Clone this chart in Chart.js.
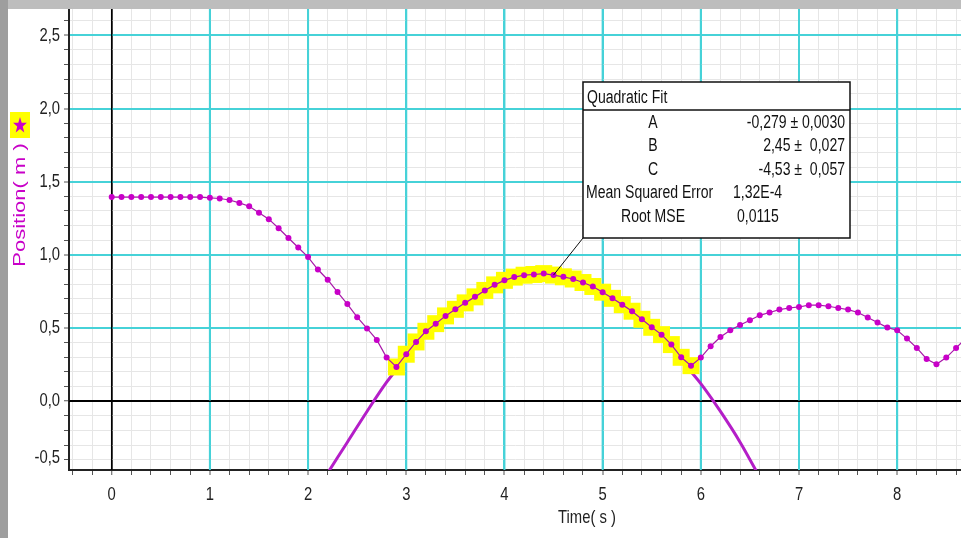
<!DOCTYPE html>
<html>
<head>
<meta charset="utf-8">
<script src="https://cdn.jsdelivr.net/npm/chart.js@4.4.1/dist/chart.umd.min.js"></script>
<style>
    html, body { margin: 0; padding: 0; background: #fff; overflow: hidden; }
    canvas { display: block; }
</style>
</head>
<body>
<canvas id="posChart" width="961" height="538"></canvas>
<script>
// ── Data ─────────────────────────────────────────────────────────
const TIME = [
    0.0, 0.1, 0.2, 0.3, 0.4, 0.5, 0.6, 0.7, 0.8, 0.9,
    1.0, 1.1, 1.2, 1.3, 1.4, 1.5, 1.6, 1.7, 1.8, 1.9,
    2.0, 2.1, 2.2, 2.3, 2.4, 2.5, 2.6, 2.7, 2.8, 2.9,
    3.0, 3.1, 3.2, 3.3, 3.4, 3.5, 3.6, 3.7, 3.8, 3.9,
    4.0, 4.1, 4.2, 4.3, 4.4, 4.5, 4.6, 4.7, 4.8, 4.9,
    5.0, 5.1, 5.2, 5.3, 5.4, 5.5, 5.6, 5.7, 5.8, 5.9,
    6.0, 6.1, 6.2, 6.3, 6.4, 6.5, 6.6, 6.7, 6.8, 6.9,
    7.0, 7.1, 7.2, 7.3, 7.4, 7.5, 7.6, 7.7, 7.8, 7.9,
    8.0, 8.1, 8.2, 8.3, 8.4, 8.5, 8.6, 8.7
];
const POSITION = [
    1.395, 1.395, 1.395, 1.395, 1.395, 1.395, 1.395, 1.395, 1.395, 1.395,
    1.390, 1.385, 1.375, 1.355, 1.332, 1.288, 1.244, 1.182, 1.115, 1.050,
    0.985, 0.900, 0.830, 0.746, 0.664, 0.574, 0.497, 0.419, 0.298, 0.234,
    0.321, 0.405, 0.478, 0.530, 0.583, 0.628, 0.672, 0.713, 0.757, 0.795,
    0.826, 0.848, 0.861, 0.866, 0.872, 0.862, 0.850, 0.835, 0.811, 0.784,
    0.745, 0.703, 0.660, 0.615, 0.560, 0.505, 0.455, 0.387, 0.300, 0.243,
    0.298, 0.376, 0.439, 0.485, 0.521, 0.553, 0.587, 0.606, 0.626, 0.637,
    0.644, 0.656, 0.656, 0.649, 0.637, 0.626, 0.606, 0.572, 0.538, 0.503,
    0.485, 0.428, 0.364, 0.289, 0.253, 0.298, 0.364, 0.430
];

// selected region used for the fit
const FIT_START = 2.9;
const FIT_END   = 5.9;
const FIT_LABEL_AT = 4.5;   // point the callout points to

// fitted curve as drawn in the picture
const FIT_TIME = [2.2, 2.4, 2.6, 2.8, 3.0, 3.2, 3.4, 3.6, 3.8, 4.0, 4.2, 4.4,
                  4.6, 4.8, 5.0, 5.2, 5.4, 5.6, 5.8, 6.0, 6.2, 6.4, 6.6];
const FIT_POS  = [-0.49, -0.28, -0.07, 0.13, 0.30, 0.46, 0.58, 0.69, 0.77, 0.82, 0.85, 0.85,
                  0.83, 0.79, 0.74, 0.66, 0.55, 0.43, 0.28, 0.12, -0.07, -0.28, -0.52];

const FIT_TITLE  = 'Quadratic Fit';
const FIT_PARAMS = ['A', 'B', 'C'];
const FIT_VALUES = ['-0,279 \u00b1 0,0030', '2,45 \u00b1  0,027', '-4,53 \u00b1  0,057'];
const FIT_STATS  = ['Mean Squared Error', 'Root MSE'];
const FIT_STATS_VALUES = ['1,32E-4', '0,0115'];

const X_TITLE = 'Time( s )';
const Y_TITLE = 'Position( m )';
const Y_BOTTOM_LABEL = -0.5;   // held inside the plot, as in the original

// ── Style ────────────────────────────────────────────────────────
const FONT    = "'Liberation Sans', Arial, sans-serif";
const SQUEEZE = 0.78;          // the original screenshot is horizontally compressed
const MAGENTA = '#c800c8';
const FIT_COL = '#b41ec8';
const CYAN    = '#46d2d8';
const MINOR   = '#e6e6e6';
const AXIS    = '#222';

Chart.defaults.font.family = FONT;
Chart.defaults.font.size   = 18;
Chart.defaults.color       = AXIS;

const near  = (v, step) => Math.abs(v / step - Math.round(v / step)) < 1e-6;
const zero  = v => Math.abs(v) < 1e-6;
const comma = v => (zero(v) ? 0 : v).toFixed(1).replace('.', ',');

function gridStyle(major) {
    return {
        color:     c => zero(c.tick.value) ? '#000' : near(c.tick.value, major) ? CYAN : MINOR,
        lineWidth: c => zero(c.tick.value) ? 1.5 : near(c.tick.value, major) ? 2 : 1,
        drawTicks: true,
        tickLength: 5,
        tickColor: '#555',
        tickWidth: 1
    };
}

// text drawn narrow, like the compressed original
function squeezed(c, text, x, y, align, size, color) {
    c.save();
    c.font = size + 'px ' + FONT;
    c.fillStyle = color || AXIS;
    c.textAlign = align;
    c.textBaseline = 'middle';
    c.translate(x, y);
    c.scale(SQUEEZE, 1);
    c.fillText(text, 0, 0);
    c.restore();
}

const points    = TIME.map((t, i) => ({ x: t, y: POSITION[i] }));
const selected  = points.filter(p => p.x >= FIT_START - 1e-6 && p.x <= FIT_END + 1e-6);
const fitPoints = FIT_TIME.map((t, i) => ({ x: t, y: FIT_POS[i] }));

// ── Plugins: background, labels, fit callout ─────────────────────
const decor = {
    id: 'decor',
    beforeDraw(chart) {
        const c = chart.ctx;
        c.save();
        c.fillStyle = '#fff';
        c.fillRect(0, 0, chart.width, chart.height);
        c.restore();
    },
    beforeDatasetsDraw(chart) {
        // major verticals and zero lines kept on top of the minor grid
        const c = chart.ctx, a = chart.chartArea;
        const xs = chart.scales.x, ys = chart.scales.y;
        c.save();
        c.strokeStyle = CYAN;
        c.lineWidth = 2;
        c.beginPath();
        xs.ticks.forEach(t => {
            if (near(t.value, 1) && !zero(t.value)) {
                const px = xs.getPixelForValue(t.value);
                c.moveTo(px, a.top);
                c.lineTo(px, a.bottom);
            }
        });
        c.stroke();

        const x0 = xs.getPixelForValue(0);
        const y0 = ys.getPixelForValue(0);
        c.strokeStyle = '#000';
        c.lineWidth = 1.5;
        c.beginPath();
        c.moveTo(x0, a.top);    c.lineTo(x0, a.bottom);
        c.moveTo(a.left, y0);   c.lineTo(a.right, y0);
        c.stroke();
        c.restore();
    },
    afterDatasetsDraw(chart) {
        const c = chart.ctx;
        const xs = chart.scales.x, ys = chart.scales.y;
        const bx = 583, by = 82, bw = 267, bh = 156;

        // leader line to the selected data
        const target = points.find(p => Math.abs(p.x - FIT_LABEL_AT) < 1e-6);
        c.save();
        c.strokeStyle = '#111';
        c.lineWidth = 1;
        c.beginPath();
        c.moveTo(bx, by + bh);
        c.lineTo(xs.getPixelForValue(target.x), ys.getPixelForValue(target.y));
        c.stroke();

        // box
        c.fillStyle = '#fff';
        c.fillRect(bx, by, bw, bh);
        c.strokeStyle = '#111';
        c.lineWidth = 1.5;
        c.strokeRect(bx, by, bw, bh);
        c.beginPath();
        c.moveTo(bx, by + 28);
        c.lineTo(bx + bw, by + 28);
        c.stroke();
        c.restore();

        squeezed(c, FIT_TITLE, bx + 4, by + 16, 'left', 18, '#111');
        FIT_PARAMS.forEach((p, i) => {
            const y = by + 41 + i * 23.4;
            squeezed(c, p, bx + 70, y, 'center', 18, '#111');
            squeezed(c, FIT_VALUES[i], bx + bw - 5, y, 'right', 18, '#111');
        });
        squeezed(c, FIT_STATS[0], bx + 3, by + 111, 'left', 18, '#111');
        squeezed(c, FIT_STATS_VALUES[0], bx + 150, by + 111, 'left', 18, '#111');
        squeezed(c, FIT_STATS[1], bx + 70, by + 135, 'center', 18, '#111');
        squeezed(c, FIT_STATS_VALUES[1], bx + 154, by + 135, 'left', 18, '#111');
    },
    afterDraw(chart) {
        const c = chart.ctx;
        const a = chart.chartArea;
        const xs = chart.scales.x, ys = chart.scales.y;

        // tick labels
        xs.ticks.forEach(t => {
            if (near(t.value, 1)) {
                squeezed(c, String(Math.round(t.value)), xs.getPixelForValue(t.value), a.bottom + 25, 'center', 19);
            }
        });
        ys.ticks.forEach(t => {
            if (near(t.value, 0.5)) {
                squeezed(c, comma(t.value), a.left - 9, ys.getPixelForValue(t.value), 'right', 19);
            }
        });
        squeezed(c, comma(Y_BOTTOM_LABEL), a.left - 9, a.bottom - 12, 'right', 19);

        // x title
        squeezed(c, X_TITLE, 587, 518, 'center', 19);

        // y title with the star marker
        c.save();
        c.fillStyle = '#ffff00';
        c.fillRect(10, 112, 20, 26);
        c.fillStyle = '#cc00cc';
        c.beginPath();
        for (let k = 0; k < 10; k++) {
            const r = k % 2 ? 3.4 : 8.5;
            const ang = -Math.PI / 2 + k * Math.PI / 5;
            const px = 20 + r * Math.cos(ang) * SQUEEZE * 1.1, py = 125.5 + r * Math.sin(ang);
            k ? c.lineTo(px, py) : c.moveTo(px, py);
        }
        c.closePath();
        c.fill();

        c.translate(20, 205);
        c.rotate(-Math.PI / 2);
        c.scale(1, SQUEEZE);
        c.font = '22px ' + FONT;
        c.fillStyle = MAGENTA;
        c.textAlign = 'center';
        c.textBaseline = 'middle';
        c.fillText(Y_TITLE, 0, 0);
        c.restore();

        // window frame
        c.save();
        c.fillStyle = '#bdbdbd';
        c.fillRect(0, 0, chart.width, 9);
        c.fillStyle = '#9e9e9e';
        c.fillRect(0, 0, 8, chart.height);
        c.restore();
    }
};

// ── Chart ────────────────────────────────────────────────────────
new Chart(document.getElementById('posChart'), {
    type: 'scatter',
    data: {
        datasets: [
            {
                label: 'Position',
                data: points,
                showLine: true,
                borderColor: '#a818a8',
                borderWidth: 1.2,
                pointRadius: 3,
                pointBackgroundColor: MAGENTA,
                pointBorderWidth: 0,
                order: 0
            },
            {
                label: 'Selection',
                data: selected,
                showLine: false,
                pointStyle: 'rect',
                pointRadius: 12,
                pointBackgroundColor: '#ffff00',
                pointBorderWidth: 0,
                order: 1
            },
            {
                label: 'Quadratic Fit',
                data: fitPoints,
                showLine: true,
                borderColor: FIT_COL,
                borderWidth: 3,
                pointRadius: 0,
                tension: 0.3,
                order: 2
            }
        ]
    },
    options: {
        responsive: false,
        animation: false,
        devicePixelRatio: 1,
        layout: {
            autoPadding: false,
            padding: { top: 9, left: 0, right: 0, bottom: 0 }
        },
        plugins: {
            legend:  { display: false },
            tooltip: { enabled: false }
        },
        scales: {
            x: {
                type: 'linear',
                min: -0.435,
                max: 8.65,
                grid: gridStyle(1),
                border: { display: true, color: AXIS, width: 2 },
                ticks: {
                    display: false,
                    stepSize: 0.2,
                    autoSkip: false,
                    includeBounds: false
                },
                afterFit: s => { s.height = 68; s.paddingLeft = 0; s.paddingRight = 0; }
            },
            y: {
                type: 'linear',
                min: -0.47,
                max: 2.68,
                grid: gridStyle(0.5),
                border: { display: true, color: AXIS, width: 2 },
                ticks: {
                    display: false,
                    stepSize: 0.1,
                    autoSkip: false,
                    includeBounds: false
                },
                afterFit: s => { s.width = 69; s.paddingTop = 0; s.paddingBottom = 0; }
            }
        }
    },
    plugins: [decor]
});
</script>
</body>
</html>
